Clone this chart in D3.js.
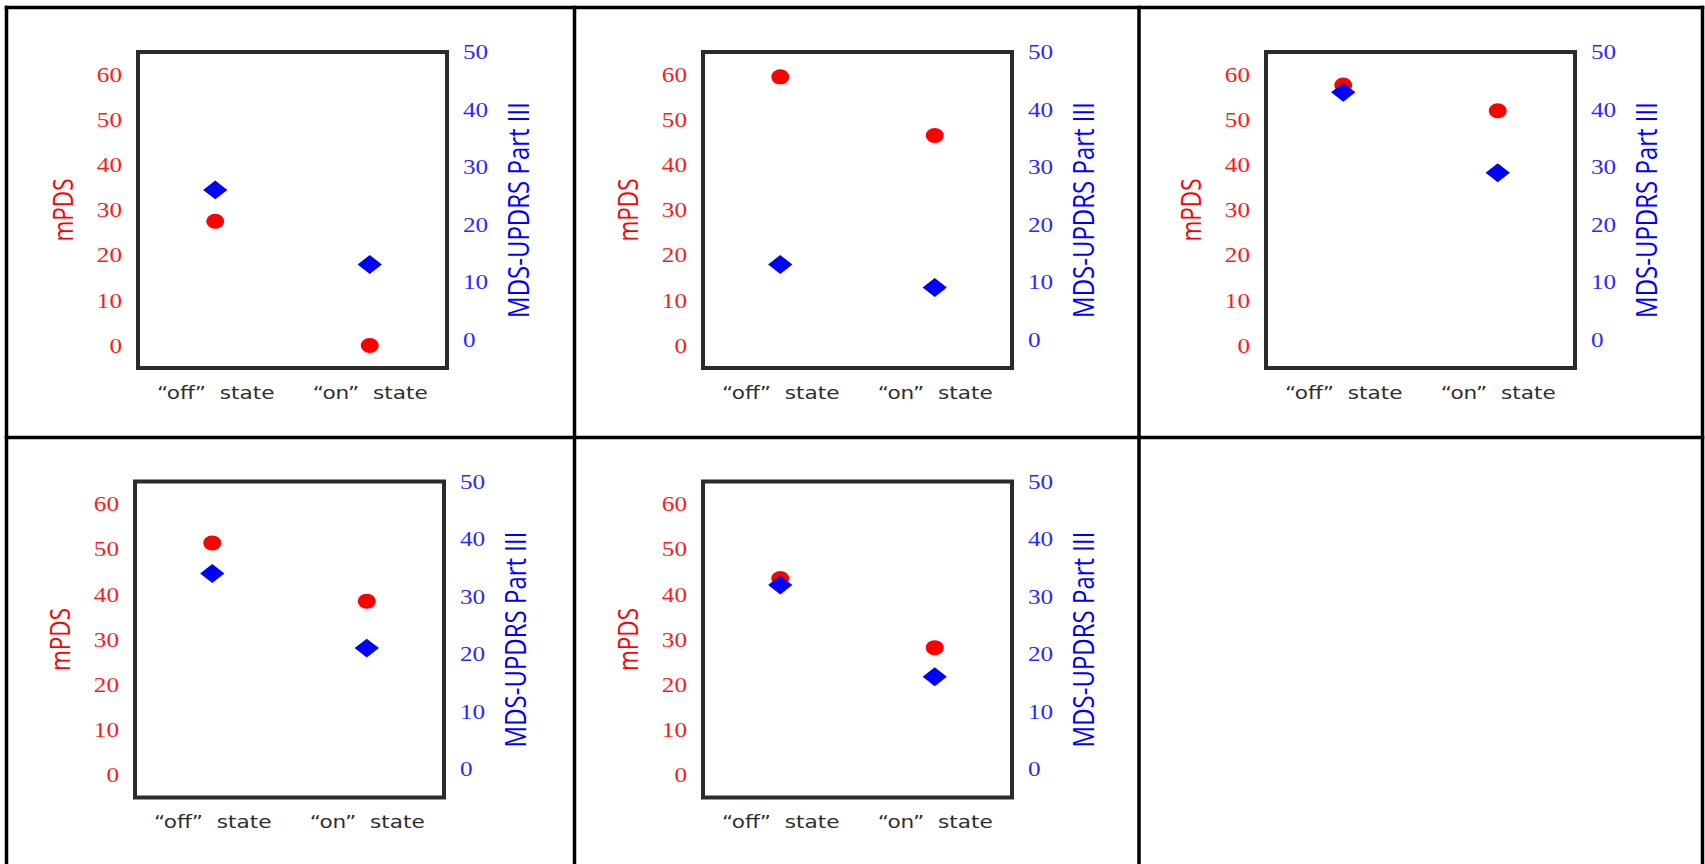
<!DOCTYPE html>
<html>
<head>
<meta charset="utf-8">
<script src="https://cdn.jsdelivr.net/npm/d3@7/dist/d3.min.js"></script>
<style>
  html, body { margin: 0; padding: 0; background: #fff; }
  svg { display: block; }
  text { white-space: pre; }
</style>
</head>
<body>
<svg id="chart" width="1705" height="864"></svg>
<script>
// Patient states on the x axis
const states = ["“off”  state", "“on”  state"];

// mPDS score per panel: [off, on]
const mpdsOff = [27.5, 59.5, 57.7, 51.4, 43.5];
const mpdsOn  = [0,    46.5, 52.0, 38.5, 28.2];

// MDS-UPDRS Part III score per panel: [off, on]
const updrsOff = [26, 13, 43, 34, 32];
const updrsOn  = [13,  9, 29, 21, 16];

// Tick labels of the two value axes
const mpdsTicks  = [0, 10, 20, 30, 40, 50, 60];
const updrsTicks = [0, 10, 20, 30, 40, 50];

// Axis titles
const mpdsTitle  = "mPDS";
const updrsTitle = "MDS-UPDRS Part III";

// ---- layout ----
const W = 1705, H = 864;
const SX = 1.2;                       // horizontal glyph stretch of the figure
const colLines = [6.5, 574.5, 1139, 1702.5];
const rowLines = [7.5, 437.5];
const frameLeft = [138, 703, 1266, 135, 703];
const frameTop  = [52, 52, 52, 481.5, 481.5];
const frameW = 309, frameH = 316;

const svg = d3.select("#chart");
svg.append("rect").attr("width", W).attr("height", H).attr("fill", "#fff");

// stretches a text element horizontally around its own anchor point
function stretchAt(sel, xAttr) {
  sel.attr("transform", function () {
    const x = +d3.select(this).attr(xAttr) || 0;
    return `translate(${x},0) scale(${SX},1) translate(${-x},0)`;
  });
}

mpdsOff.forEach((_, i) => {
  const fx = frameLeft[i], fy = frameTop[i];
  const g = svg.append("g");

  const x = d3.scalePoint().domain(states).range([fx, fx + frameW]).padding(0.5);
  const yL = d3.scaleLinear().domain([-5, 65]).range([fy + frameH, fy]);
  const yR = d3.scaleLinear().domain([-5, 50]).range([fy + frameH, fy]);

  // left axis (mPDS)
  const axL = g.append("g").attr("transform", `translate(${fx},0)`)
    .call(d3.axisLeft(yL).tickValues(mpdsTicks).tickSize(0).tickPadding(16));
  axL.select(".domain").remove();
  axL.selectAll("text")
    .attr("fill", "#ff1a1a")
    .attr("font-family", "'Liberation Serif', serif")
    .attr("font-size", 21)
    .call(stretchAt, "x");

  // right axis (MDS-UPDRS Part III)
  const axR = g.append("g").attr("transform", `translate(${fx + frameW},0)`)
    .call(d3.axisRight(yR).tickValues(updrsTicks).tickSize(0).tickPadding(16));
  axR.select(".domain").remove();
  axR.selectAll("text")
    .attr("fill", "#2a2aff")
    .attr("font-family", "'Liberation Serif', serif")
    .attr("font-size", 21)
    .call(stretchAt, "x");

  // bottom category labels
  const axB = g.append("g").attr("transform", `translate(0,${fy + frameH})`)
    .call(d3.axisBottom(x).tickSize(0).tickPadding(18));
  axB.select(".domain").remove();
  axB.selectAll("text")
    .attr("fill", "#2e2e2e")
    .attr("font-family", "'DejaVu Sans', sans-serif")
    .attr("font-size", 18)
    .attr("transform", `scale(${SX},1)`);

  // plot frame
  g.append("rect")
    .attr("x", fx).attr("y", fy).attr("width", frameW).attr("height", frameH)
    .attr("fill", "none").attr("stroke", "#2b2b2b").attr("stroke-width", 4);

  // axis titles
  const cy = fy + frameH / 2;
  g.append("text")
    .attr("transform", `translate(${fx - 76},${cy}) scale(${SX},1) rotate(-90)`)
    .attr("text-anchor", "middle").attr("dominant-baseline", "central")
    .attr("fill", "#ff0000")
    .attr("font-family", "'Open Sans', sans-serif").attr("font-size", 22.5)
    .text(mpdsTitle);
  g.append("text")
    .attr("transform", `translate(${fx + frameW + 71},${cy}) scale(${SX},1) rotate(-90)`)
    .attr("text-anchor", "middle").attr("dominant-baseline", "central")
    .attr("fill", "#0000ff")
    .attr("font-family", "'Open Sans', sans-serif").attr("font-size", 24)
    .text(updrsTitle);

  // markers
  const mp = [mpdsOff[i], mpdsOn[i]];
  const up = [updrsOff[i], updrsOn[i]];
  const circle = d3.symbol().type(d3.symbolCircle).size(Math.PI * 7.5 * 7.5)();
  const square = d3.symbol().type(d3.symbolSquare).size(13.4 * 13.4)();

  g.selectAll(".mp").data(states).join("path")
    .attr("d", circle)
    .attr("fill", "#ff0000")
    .attr("transform", (s, j) => `translate(${x(s)},${yL(mp[j])}) scale(${SX},1)`);

  g.selectAll(".up").data(states).join("path")
    .attr("d", square)
    .attr("fill", "#0000ff")
    .attr("transform", (s, j) => `translate(${x(s)},${yR(up[j])}) scale(${SX + 0.08},1) rotate(45)`);
});

// table grid lines
const grid = svg.append("g").attr("stroke", "#000").attr("stroke-width", 3.5);
colLines.forEach(cx => grid.append("line").attr("x1", cx).attr("x2", cx).attr("y1", 5.75).attr("y2", H));
rowLines.forEach(ry => grid.append("line").attr("x1", colLines[0] - 1.75).attr("x2", colLines[3] + 1.75).attr("y1", ry).attr("y2", ry));
</script>
</body>
</html>
